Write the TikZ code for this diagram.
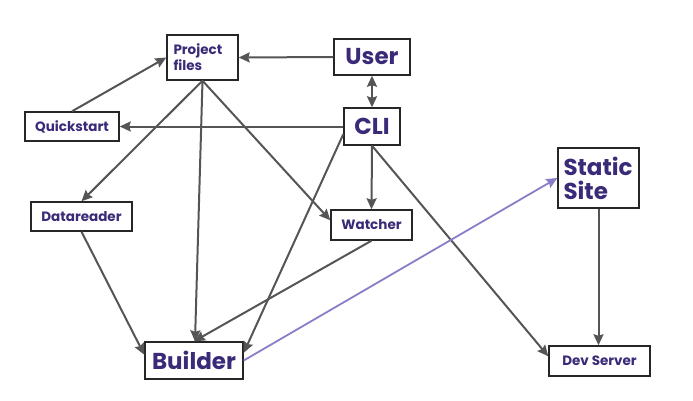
\documentclass[tikz,border=0pt]{standalone}
\usepackage{fontspec}
\setmainfont{Poppins}
\usetikzlibrary{arrows.meta,calc}
\definecolor{txt}{HTML}{3B2A78}
\definecolor{edge}{HTML}{555555}
\definecolor{purp}{HTML}{8B7CC8}
\tikzset{
  box/.style={draw=black!85, line width=1.4pt, fill=white, inner sep=0pt, text=txt, font=\bfseries},
  smallf/.style={font=\bfseries\fontsize{13.5}{16}\selectfont},
  bigf/.style={font=\bfseries\fontsize{23}{24}\selectfont},
  conn/.style={draw=edge, line width=2pt, -{Stealth[length=11pt,width=10pt,inset=1.5pt]}},
  pconn/.style={draw=purp, line width=1.8pt, -{Stealth[length=11pt,width=10pt,inset=1.5pt]}}
}
\begin{document}
\begin{tikzpicture}[x=1pt,y=-1pt]
\useasboundingbox (0,0) rectangle (693,400);
\node[box,smallf,minimum width=71pt,minimum height=45pt,text width=58pt,align=left] (pf) at (202.5,57.5) {Project\\files};
\node[box,bigf,minimum width=76pt,minimum height=36pt] (user) at (372,57) {User};
\node[box,bigf,minimum width=56pt,minimum height=37pt] (cli) at (372,126.5) {CLI};
\node[box,smallf,minimum width=94pt,minimum height=29pt] (qs) at (72,126.5) {Quickstart};
\node[box,smallf,minimum width=101pt,minimum height=29pt] (dr) at (81.5,216.5) {Datareader};
\node[box,smallf,minimum width=81pt,minimum height=30pt] (wa) at (371.5,225) {Watcher};
\node[box,bigf,minimum width=98pt,minimum height=37pt] (bu) at (194,360.5) {Builder};
\node[box,bigf,minimum width=81pt,minimum height=60pt,text width=70pt,align=left] (ss) at (598.5,178) {Static\\Site};
\node[box,smallf,minimum width=101pt,minimum height=30pt] (ds) at (599.5,361) {Dev Server};

\draw[conn] (user.west) -- (pf.east);
\draw[draw=edge, line width=2pt, {Stealth[length=11pt,width=10pt,inset=1.5pt]}-{Stealth[length=11pt,width=10pt,inset=1.5pt]}] (user.south) -- (cli.north);
\draw[conn] (cli.west) -- (qs.east);
\draw[conn] (qs.north) -- (pf.west);
\draw[conn] (pf.south) -- (dr.north);
\draw[conn] (pf.south) -- ($(bu.north)+(1,0)$);
\draw[conn] (pf.south) -- ($(wa.north west)!0.35!(wa.south west)$);
\draw[conn] ($(cli.north west)!0.7!(cli.south west)$) -- ($(bu.north east)!0.3!(bu.south east)$);
\draw[conn] (cli.south) -- (wa.north);
\draw[conn] (cli.south) -- ($(ds.north west)!0.35!(ds.south west)$);
\draw[conn] (dr.south) -- ($(bu.north west)!0.35!(bu.south west)$);
\draw[conn] (wa.south) -- (bu.north);
\draw[pconn] (bu.east) -- ($(ss.north west)!0.5!(ss.south west)$);
\draw[conn] (ss.south) -- (ss.south |- ds.north);
\end{tikzpicture}
\end{document}
